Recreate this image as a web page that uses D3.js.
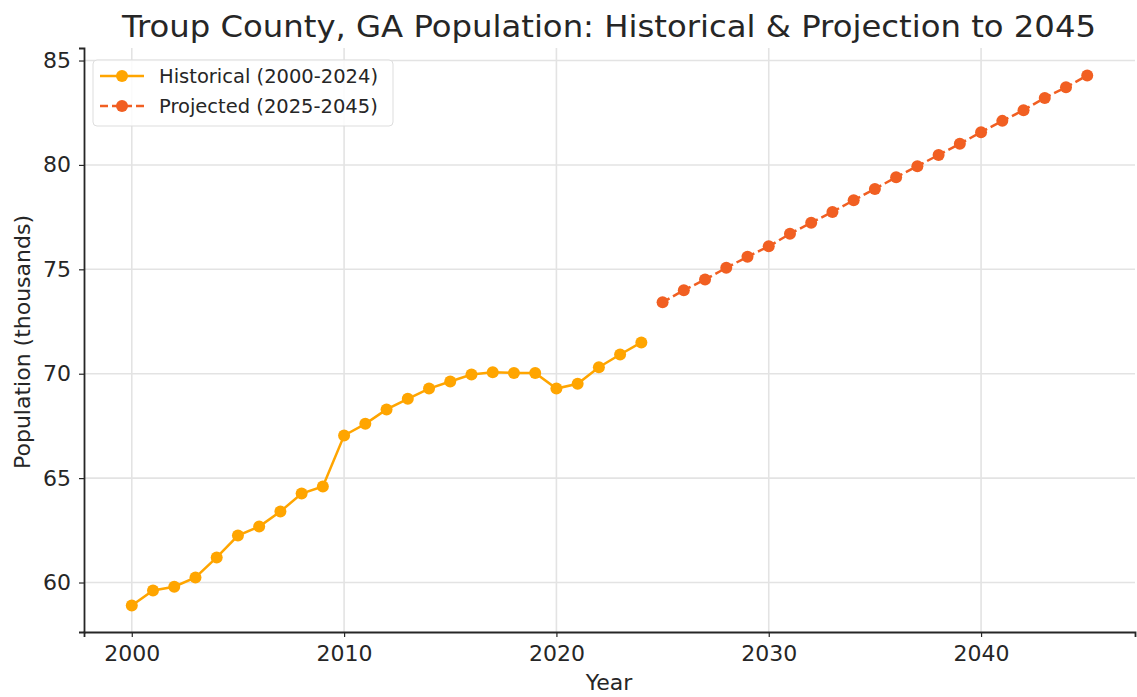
<!DOCTYPE html>
<html>
<head>
<meta charset="utf-8">
<script src="https://cdn.jsdelivr.net/npm/d3@7"></script>
<style>
  html, body { margin: 0; padding: 0; background: #ffffff; }
  svg { display: block; font-family: "DejaVu Sans", sans-serif; }
</style>
</head>
<body>
<svg id="chart" width="1137" height="697"></svg>
<script>
const histYears = d3.range(2000, 2025);
const histValues = [58.9, 59.62, 59.8, 60.24, 61.2, 62.25, 62.68, 63.4, 64.26, 64.6,
  67.04, 67.6, 68.29, 68.8, 69.29, 69.63, 69.96, 70.07, 70.04, 70.04,
  69.29, 69.52, 70.31, 70.92, 71.5];
const projYears = d3.range(2025, 2046);
const projValues = [73.42, 74.0, 74.51, 75.07, 75.6, 76.1, 76.7, 77.23, 77.75, 78.31,
  78.85, 79.41, 79.94, 80.48, 81.01, 81.57, 82.11, 82.62, 83.21, 83.72, 84.28];
const xTicks = [2000, 2010, 2020, 2030, 2040];
const yTicks = [60, 65, 70, 75, 80, 85];
const seriesNames = ["Historical (2000-2024)", "Projected (2025-2045)"];
const colors = ["#FFA500", "#F15F22"];

const svg = d3.select("#chart");
const L = 84, R = 1135, T = 48, B = 632;

const x = d3.scaleLinear().domain([1997.75, 2047.25]).range([L, R]);
const y = d3.scaleLinear().domain([57.63, 85.6]).range([B, T]);

// grid
svg.append("g").selectAll("line").data(xTicks).join("line")
  .attr("x1", d => x(d)).attr("x2", d => x(d)).attr("y1", T).attr("y2", B)
  .attr("stroke", "#e3e3e3").attr("stroke-width", 1.6);
svg.append("g").selectAll("line").data(yTicks).join("line")
  .attr("x1", L).attr("x2", R).attr("y1", d => y(d)).attr("y2", d => y(d))
  .attr("stroke", "#e3e3e3").attr("stroke-width", 1.6);

// axes
const xAxis = svg.append("g").attr("transform", `translate(0,${B})`)
  .call(d3.axisBottom(x).tickValues(xTicks).tickFormat(d3.format("d")).tickSizeOuter(0).tickSize(5).tickPadding(8));
const yAxis = svg.append("g").attr("transform", `translate(${L},0)`)
  .call(d3.axisLeft(y).tickValues(yTicks).tickSizeOuter(0).tickSize(5).tickPadding(8));
[xAxis, yAxis].forEach(a => {
  a.select(".domain").attr("stroke", "#262626").attr("stroke-width", 1.8);
  a.selectAll(".tick line").attr("stroke", "#262626").attr("stroke-width", 1.2);
  a.selectAll(".tick text").attr("fill", "#262626").attr("font-size", 22).attr("font-family", "DejaVu Sans");
});

// lines
const line = d3.line().x(d => x(d[0])).y(d => y(d[1]));
const hist = histYears.map((yr, i) => [yr, histValues[i]]);
const proj = projYears.map((yr, i) => [yr, projValues[i]]);

svg.append("path").datum(hist).attr("d", line).attr("fill", "none")
  .attr("stroke", colors[0]).attr("stroke-width", 2.5);
svg.append("g").selectAll("circle").data(hist).join("circle")
  .attr("cx", d => x(d[0])).attr("cy", d => y(d[1])).attr("r", 6).attr("fill", colors[0]);

svg.append("path").datum(proj).attr("d", line).attr("fill", "none")
  .attr("stroke", colors[1]).attr("stroke-width", 2.5).attr("stroke-dasharray", "8,4");
svg.append("g").selectAll("circle").data(proj).join("circle")
  .attr("cx", d => x(d[0])).attr("cy", d => y(d[1])).attr("r", 6).attr("fill", colors[1]);

// title & labels
svg.append("text").attr("x", 609).attr("y", 37).attr("text-anchor", "middle")
  .attr("font-size", 31).attr("fill", "#262626")
  .attr("textLength", 974).attr("lengthAdjust", "spacingAndGlyphs")
  .text("Troup County, GA Population: Historical & Projection to 2045");
svg.append("text").attr("x", 609).attr("y", 690).attr("text-anchor", "middle")
  .attr("font-size", 22).attr("fill", "#262626").text("Year");
svg.append("text").attr("transform", "translate(30,342) rotate(-90)").attr("text-anchor", "middle")
  .attr("font-size", 22).attr("fill", "#262626").text("Population (thousands)");

// legend
const lg = svg.append("g");
lg.append("rect").attr("x", 93).attr("y", 60).attr("width", 300).attr("height", 66).attr("rx", 4)
  .attr("fill", "#ffffff").attr("fill-opacity", 0.85).attr("stroke", "#dddddd");
seriesNames.forEach((name, i) => {
  const cy = 76 + i * 30;
  lg.append("line").attr("x1", 100).attr("x2", 144).attr("y1", cy).attr("y2", cy)
    .attr("stroke", colors[i]).attr("stroke-width", 2.5)
    .attr("stroke-dasharray", i === 1 ? "8,4" : null);
  lg.append("circle").attr("cx", 122).attr("cy", cy).attr("r", 6).attr("fill", colors[i]);
  lg.append("text").attr("x", 159).attr("y", cy + 7).attr("font-size", 19.5).attr("fill", "#262626").text(name);
});
</script>
</body>
</html>
